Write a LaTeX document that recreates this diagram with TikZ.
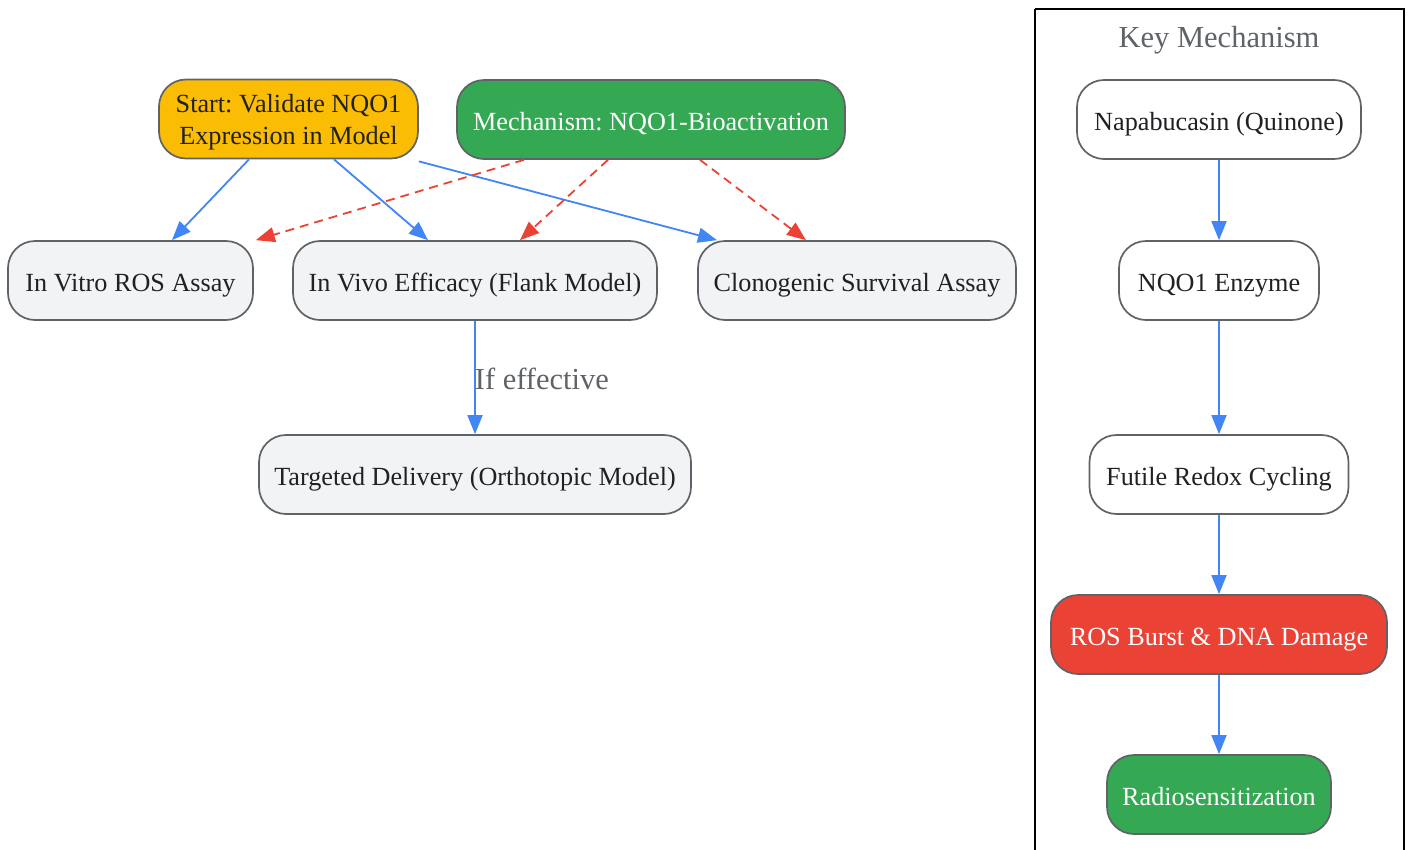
\documentclass[tikz,border=0pt]{standalone}
\usepackage{fontspec}
\setmainfont{Liberation Serif}
\usetikzlibrary{arrows.meta}
\definecolor{gblue}{HTML}{4285F4}
\definecolor{gred}{HTML}{EA4335}
\definecolor{ggreen}{HTML}{34A853}
\definecolor{gyellow}{HTML}{FBBC04}
\definecolor{glight}{HTML}{F1F3F4}
\definecolor{gborder}{HTML}{5F6368}
\definecolor{gtext}{HTML}{202124}
\frenchspacing
\tikzset{
  box/.style={draw=gborder, line width=1.7pt, rounded corners=27pt, minimum height=79pt,
    inner sep=0pt, align=center, text=gtext, font=\fontsize{26.2}{32}\selectfont},
  single/.style={text height=21pt, text depth=0pt},
  lightbox/.style={box, single, fill=glight},
  whitebox/.style={box, single, fill=white},
  flow/.style={draw=gblue, line width=1.8pt, -{Triangle[length=19pt,width=15pt]}},
  mech/.style={draw=gred, line width=1.8pt, dash pattern=on 9pt off 6pt, -{Triangle[length=19pt,width=15pt]}},
  lbl/.style={text=gborder, font=\fontsize{30.5}{34}\selectfont, inner sep=0pt, text height=20pt, text depth=0pt},
}
\begin{document}
\begin{tikzpicture}[x=1pt,y=-1pt]
\useasboundingbox (0,0) rectangle (1408,849);
% cluster
\draw[line width=2pt, black] (1035,9) -- (1035,860) (1035,9) -- (1404,9) -- (1404,860);
\node[lbl] (ktitle) at (1219,37) {Key Mechanism};
% left nodes
\node[box, fill=gyellow, minimum width=259pt] (start) at (288.5,119) {\rule{0pt}{25pt}Start: Validate NQO1\\Expression in Model};
\node[box, single, fill=ggreen, text=white, minimum width=388pt] (mechn) at (651,119.5) {Mechanism: NQO1-Bioactivation};
\node[lightbox, minimum width=245pt] (invitro) at (130.5,280.5) {In Vitro ROS Assay};
\node[lightbox, minimum width=364pt] (invivo) at (475,280.5) {In Vivo Efficacy (Flank Model)};
\node[lightbox, minimum width=318pt] (clono) at (857,280.5) {Clonogenic Survival Assay};
\node[lightbox, minimum width=432pt] (target) at (475,474.5) {Targeted Delivery (Orthotopic Model)};
% right nodes
\node[whitebox, minimum width=284pt] (napa) at (1219,119.5) {Napabucasin (Quinone)};
\node[whitebox, minimum width=200pt] (nqo) at (1219,280.5) {NQO1 Enzyme};
\node[whitebox, minimum width=259pt] (futile) at (1219,474.5) {Futile Redox Cycling};
\node[box, single, fill=gred, text=white, minimum width=336pt] (ros) at (1219,634.5) {ROS Burst \& DNA Damage};
\node[box, single, fill=ggreen, text=white, minimum width=224pt] (radio) at (1219,794.5) {Radiosensitization};
% edges
\draw[flow] ([xshift=-39.5pt]start.south) -- ([xshift=41.5pt]invitro.north);
\draw[flow] ([xshift=45.5pt]start.south) -- ([xshift=-47pt]invivo.north);
\draw[flow] ([yshift=-2pt]start.south east) -- ([xshift=-140pt]clono.north);
\draw[mech] ([xshift=-127pt]mechn.south) -- ([xshift=2pt]invitro.north east);
\draw[mech] ([xshift=-43pt]mechn.south) -- ([xshift=45pt]invivo.north);
\draw[mech] ([xshift=49pt]mechn.south) -- ([xshift=-51pt]clono.north);
\draw[flow] (invivo.south) -- node[lbl, pos=0.52, anchor=west, xshift=-1pt] (iflbl) {If effective} (target.north);
\draw[flow] (napa) -- (nqo);
\draw[flow] (nqo) -- (futile);
\draw[flow] (futile) -- (ros);
\draw[flow] (ros) -- (radio);
\end{tikzpicture}
\end{document}
